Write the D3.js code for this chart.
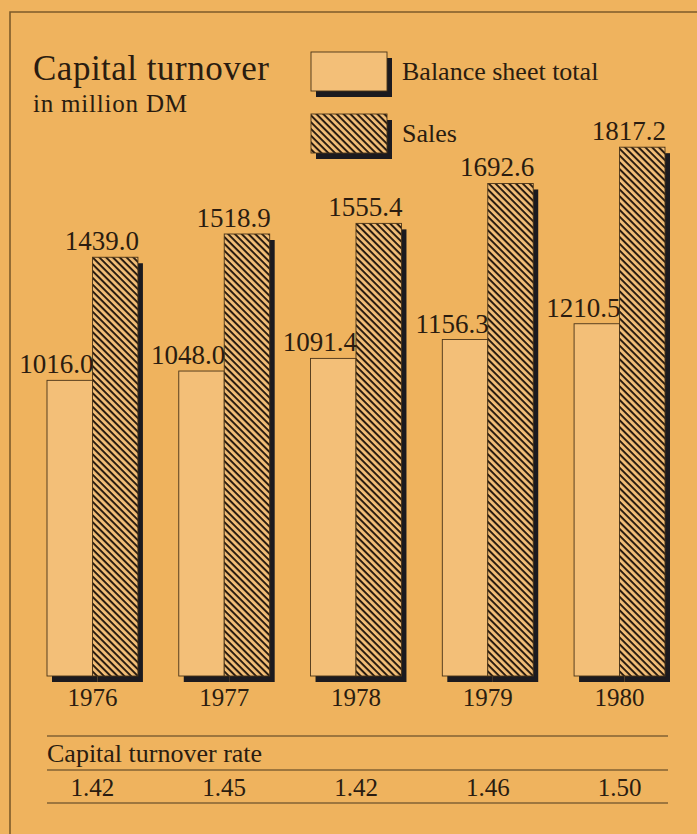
<!DOCTYPE html>
<html>
<head>
<meta charset="utf-8">
<script src="https://cdn.jsdelivr.net/npm/d3@7"></script>
<style>
  html, body { margin: 0; padding: 0; background: #efb35e; }
  svg { display: block; }
  text { font-family: "Liberation Serif", "Times New Roman", serif; fill: #2a1c10; }
</style>
</head>
<body>
<svg id="chart" width="697" height="834"></svg>
<script>
// Capital turnover, in million DM
const years = ["1976", "1977", "1978", "1979", "1980"];
const balanceSheetTotal = [1016.0, 1048.0, 1091.4, 1156.3, 1210.5];
const sales = [1439.0, 1518.9, 1555.4, 1692.6, 1817.2];
const turnoverRate = ["1.42", "1.45", "1.42", "1.46", "1.50"];
const seriesNames = ["Balance sheet total", "Sales"];

const W = 697, H = 834;
const BG = "#efb35e", BAR = "#f3bf78", INK = "#2a1c10", SHADOW = "#1b1a1f", FRAME = "#7d5b2a";
const SH_DX = 5, SH_DY = 6;

const svg = d3.select("#chart");

// hatch pattern for the sales bars
const defs = svg.append("defs");
const pat = defs.append("pattern")
  .attr("id", "hatch")
  .attr("patternUnits", "userSpaceOnUse")
  .attr("width", 4.8).attr("height", 4.8)
  .attr("patternTransform", "rotate(45)");
pat.append("rect").attr("width", 4.8).attr("height", 4.8).attr("fill", BAR);
pat.append("rect").attr("width", 4.8).attr("height", 2).attr("fill", INK);

// background and frame
svg.append("rect").attr("width", W).attr("height", H).attr("fill", BG);
svg.append("path")
  .attr("d", `M${W},12 H10 V${H}`)
  .attr("fill", "none").attr("stroke", FRAME).attr("stroke-width", 1.6);

// scales
const x = d3.scaleBand().domain(years).range([47, 665]).paddingInner(0.31).paddingOuter(0);
const xs = d3.scaleBand().domain(seriesNames).range([0, x.bandwidth()]);
const y = d3.scaleLinear().domain([0, 2000]).range([676, 94]);

const rows = years.map((yr, i) => ({
  year: yr,
  bars: [
    { key: seriesNames[0], value: balanceSheetTotal[i] },
    { key: seriesNames[1], value: sales[i] }
  ],
  rate: turnoverRate[i]
}));

const groups = svg.append("g").selectAll("g.grp")
  .data(rows).join("g")
  .attr("class", "grp")
  .attr("transform", d => `translate(${x(d.year)},0)`);

// drop shadows
groups.selectAll("rect.shadow")
  .data(d => d.bars).join("rect")
  .attr("class", "shadow")
  .attr("x", d => xs(d.key) + SH_DX)
  .attr("y", d => y(d.value) + SH_DY)
  .attr("width", xs.bandwidth())
  .attr("height", d => y(0) - y(d.value))
  .attr("fill", SHADOW);

// bars
groups.selectAll("rect.bar")
  .data(d => d.bars).join("rect")
  .attr("class", "bar")
  .attr("x", d => xs(d.key))
  .attr("y", d => y(d.value))
  .attr("width", xs.bandwidth())
  .attr("height", d => y(0) - y(d.value))
  .attr("fill", d => d.key === seriesNames[1] ? "url(#hatch)" : BAR)
  .attr("stroke", "#4a3418").attr("stroke-width", 0.9);

// value labels, right-aligned to each bar's right edge
groups.selectAll("text.val")
  .data(d => d.bars).join("text")
  .attr("class", "val")
  .attr("x", d => xs(d.key) + xs.bandwidth() + 1)
  .attr("y", d => y(d.value) - 7)
  .attr("text-anchor", "end")
  .attr("font-size", 27)
  .text(d => d.value.toFixed(1));

// year labels
groups.append("text")
  .attr("x", x.bandwidth() / 2)
  .attr("y", 706)
  .attr("text-anchor", "middle")
  .attr("font-size", 25)
  .text(d => d.year);

// title
svg.append("text").attr("x", 33).attr("y", 80).attr("font-size", 35)
  .attr("letter-spacing", 0.5).text("Capital turnover");
svg.append("text").attr("x", 33).attr("y", 112).attr("font-size", 25)
  .attr("letter-spacing", 0.8).text("in million DM");

// legend
const legend = svg.append("g").selectAll("g")
  .data(seriesNames).join("g")
  .attr("transform", (d, i) => `translate(311,${52 + i * 62})`);
legend.append("rect").attr("x", SH_DX).attr("y", SH_DY)
  .attr("width", 76).attr("height", 39).attr("fill", SHADOW);
legend.append("rect").attr("width", 76).attr("height", 39)
  .attr("fill", (d, i) => i === 1 ? "url(#hatch)" : BAR)
  .attr("stroke", "#4a3418").attr("stroke-width", 0.9);
legend.append("text").attr("x", 91).attr("y", 28).attr("font-size", 26)
  .text(d => d);

// capital turnover rate table
const tbl = svg.append("g");
[736, 770, 803].forEach(ly => {
  tbl.append("line").attr("x1", 47).attr("x2", 668).attr("y1", ly).attr("y2", ly)
    .attr("stroke", "#4d3a1e").attr("stroke-width", 1.2);
});
tbl.append("text").attr("x", 47).attr("y", 762).attr("font-size", 26)
  .text("Capital turnover rate");
tbl.selectAll("text.rate")
  .data(rows).join("text")
  .attr("class", "rate")
  .attr("x", d => x(d.year) + x.bandwidth() / 2)
  .attr("y", 796)
  .attr("text-anchor", "middle")
  .attr("font-size", 25)
  .text(d => d.rate);
</script>
</body>
</html>
